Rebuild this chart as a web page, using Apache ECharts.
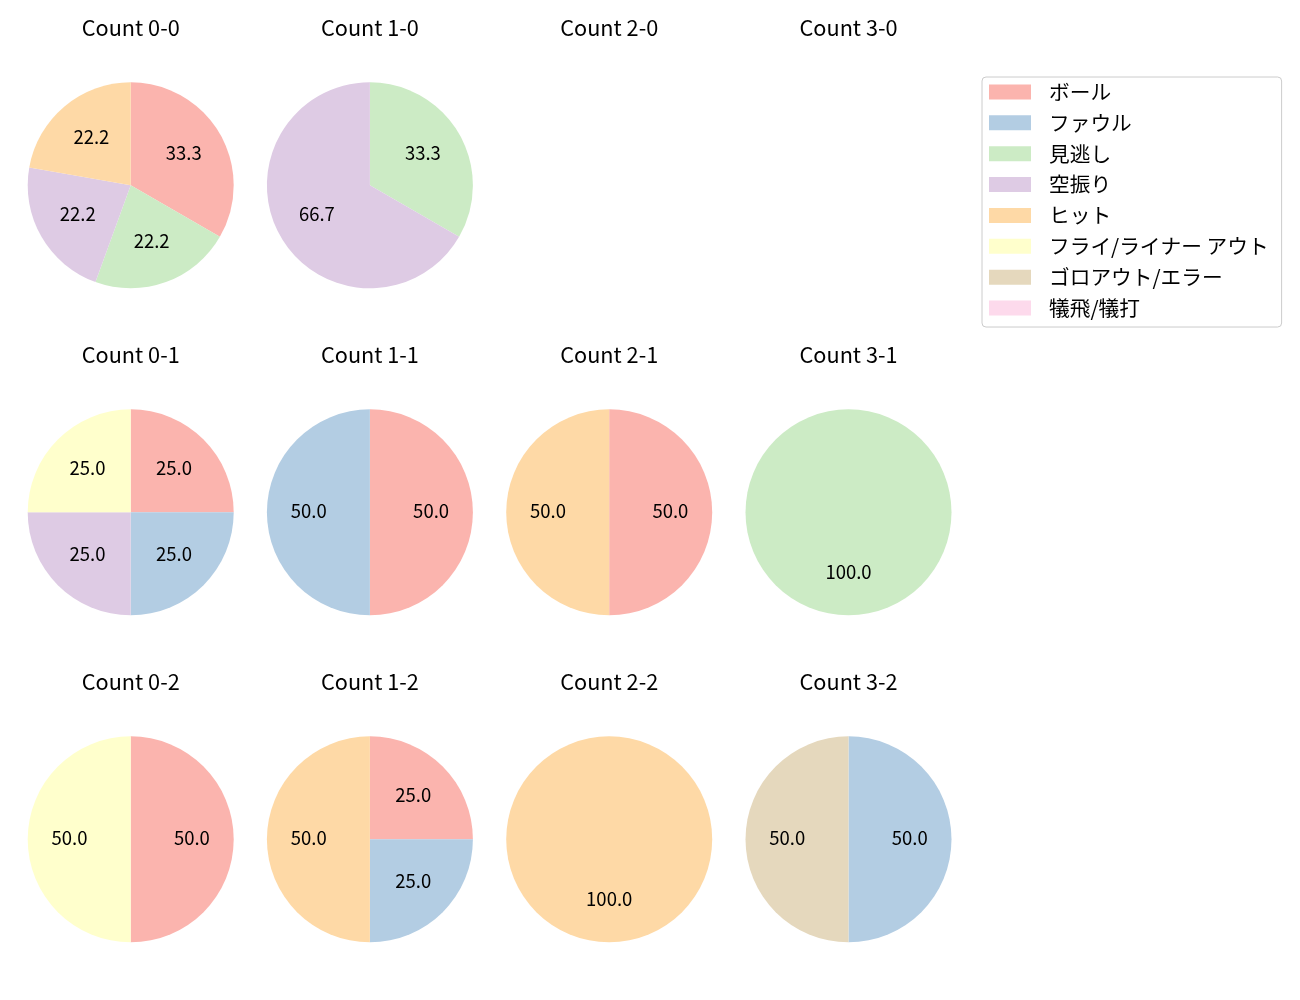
<!DOCTYPE html>
<html>
<head>
<meta charset="utf-8">
<script src="https://cdn.jsdelivr.net/npm/echarts@6/dist/echarts.min.js"></script>
<style>html,body{margin:0;padding:0;background:#fff;}#c{width:1300px;height:1000px;}</style>
</head>
<body>
<div id="c"></div>
<script>
const categories = ['ボール','ファウル','見逃し','空振り','ヒット','フライ/ライナー アウト','ゴロアウト/エラー','犠飛/犠打'];
const colors = ['#fbb4ae','#b3cde3','#ccebc5','#decbe4','#fed9a6','#ffffcc','#e5d8bd','#fddaec'];
const titles = ['Count 0-0','Count 1-0','Count 2-0','Count 3-0',
                'Count 0-1','Count 1-1','Count 2-1','Count 3-1',
                'Count 0-2','Count 1-2','Count 2-2','Count 3-2'];
const count00 = [3,0,2,2,2,0,0,0];
const count10 = [0,0,1,2,0,0,0,0];
const count20 = [0,0,0,0,0,0,0,0];
const count30 = [0,0,0,0,0,0,0,0];
const count01 = [1,1,0,1,0,1,0,0];
const count11 = [1,1,0,0,0,0,0,0];
const count21 = [1,0,0,0,1,0,0,0];
const count31 = [0,0,1,0,0,0,0,0];
const count02 = [1,0,0,0,0,1,0,0];
const count12 = [1,1,0,0,2,0,0,0];
const count22 = [0,0,0,0,1,0,0,0];
const count32 = [0,1,0,0,0,0,1,0];
const allCounts = [count00,count10,count20,count30,count01,count11,count21,count31,count02,count12,count22,count32];

const colX = [130.7, 369.9, 609.2, 848.5];
const rowY = [185.3, 512.3, 839.3];
const R = 103;
const titleOffset = 157.3;
const FONT = '"Noto Sans CJK JP", "Noto Sans", sans-serif';

const series = [];
const title = [];
// hidden series so that every category appears in the legend
series.push({
  type: 'pie', name: 'legendItems', radius: 0, center: [-200, -200], silent: true,
  label: {show: false}, labelLine: {show: false},
  data: categories.map((c, i) => ({name: c, value: 1, itemStyle: {color: colors[i]}}))
});

allCounts.forEach((vals, k) => {
  const cx = colX[k % 4], cy = rowY[Math.floor(k / 4)];
  title.push({
    text: titles[k], left: cx, top: cy - titleOffset, padding: 0,
    textAlign: 'center', textVerticalAlign: 'middle',
    textStyle: {fontFamily: FONT, fontSize: 21.7, fontWeight: 'normal', color: '#000'}
  });
  const data = [];
  vals.forEach((v, i) => { if (v > 0) data.push({name: categories[i], value: v, itemStyle: {color: colors[i]}}); });
  if (!data.length) return;
  series.push({
    type: 'pie', center: [cx, cy], radius: R, startAngle: 90, clockwise: true,
    avoidLabelOverlap: false, silent: true,
    itemStyle: {borderWidth: 0},
    label: {show: false}, labelLine: {show: false},
    emphasis: {disabled: true},
    data: data
  });
  series.push({
    type: 'pie', center: [cx, cy], radius: [R * 0.13, R], startAngle: 90, clockwise: true,
    avoidLabelOverlap: false, silent: true,
    itemStyle: {borderWidth: 0, color: 'rgba(0,0,0,0)'},
    label: {show: true, position: 'inside', fontFamily: FONT, fontSize: 18.5, color: '#000',
            offset: [0, -1.5],
            formatter: p => p.percent.toFixed(1)},
    labelLine: {show: false},
    emphasis: {disabled: true},
    data: data.map(d => ({name: d.name, value: d.value}))
  });
});

const chart = echarts.init(document.getElementById('c'), null, {renderer: 'canvas'});
chart.setOption({
  animation: false,
  backgroundColor: '#fff',
  title: title,
  legend: {
    orient: 'vertical', left: 982, top: 77,
    padding: [4.5, 13, 8.5, 7],
    itemWidth: 42, itemHeight: 15, itemGap: 9.86,
    icon: 'rect',
    borderColor: '#cccccc', borderWidth: 1, borderRadius: 4,
    textStyle: {fontFamily: FONT, fontSize: 20.7, color: '#000', lineHeight: 21, padding: [0, 0, 0, 13]},
    data: categories
  },
  series: series
});
</script>
</body>
</html>
